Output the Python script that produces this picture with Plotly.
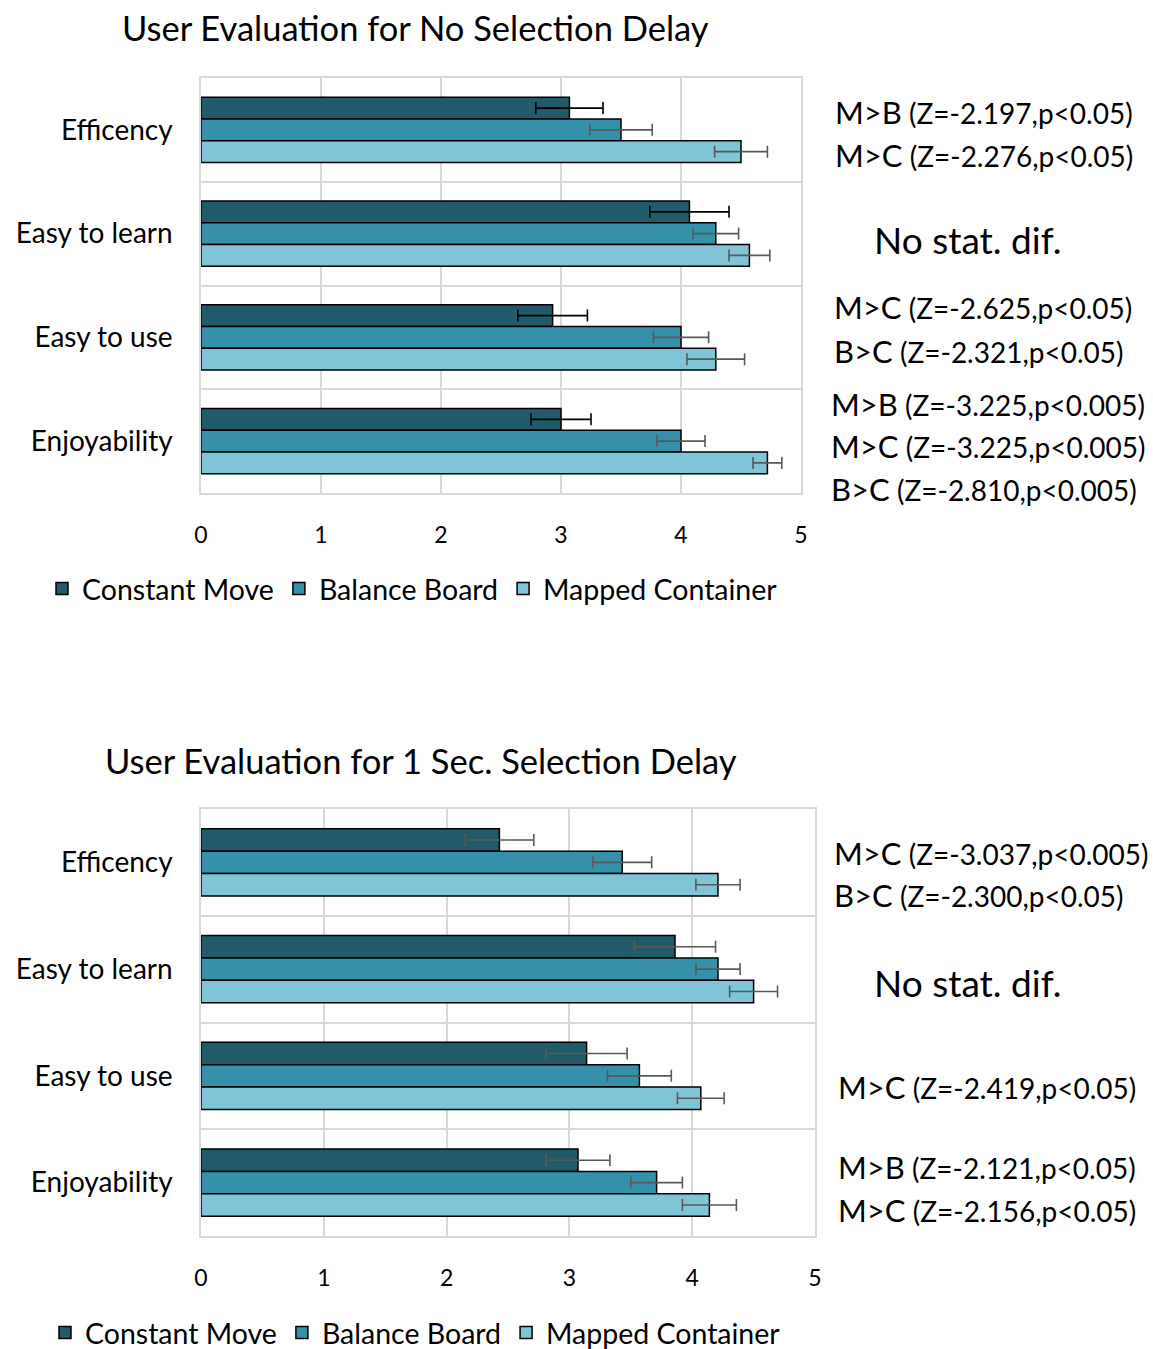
import plotly.graph_objects as go

# ---- data -------------------------------------------------------------
categories = ["Efficency", "Easy to learn", "Easy to use", "Enjoyability"]
series_names = ["Constant Move", "Balance Board", "Mapped Container"]

# No selection delay: means and error half-widths per series
nodelay_cm = [3.07, 4.07, 2.93, 3.00]
nodelay_bb = [3.50, 4.29, 4.00, 4.00]
nodelay_mc = [4.50, 4.57, 4.29, 4.72]
nodelay_cm_err = [0.28, 0.33, 0.29, 0.25]
nodelay_bb_err = [0.26, 0.19, 0.23, 0.20]
nodelay_mc_err = [0.22, 0.17, 0.24, 0.12]

# 1 second selection delay
delay_cm = [2.43, 3.86, 3.14, 3.07]
delay_bb = [3.43, 4.21, 3.57, 3.71]
delay_mc = [4.21, 4.50, 4.07, 4.14]
delay_cm_err = [0.28, 0.33, 0.33, 0.26]
delay_bb_err = [0.24, 0.18, 0.26, 0.21]
delay_mc_err = [0.18, 0.195, 0.19, 0.22]

x_ticks = [0, 1, 2, 3, 4, 5]

title_top = "User Evaluation for No Selection Delay"
title_bottom = "User Evaluation for 1 Sec. Selection Delay"

# statistical notes: (comparison, detail)
notes_top = [
    ("M>B", "(Z=-2.197,p<0.05)"),
    ("M>C", "(Z=-2.276,p<0.05)"),
    ("M>C", "(Z=-2.625,p<0.05)"),
    ("B>C", "(Z=-2.321,p<0.05)"),
    ("M>B", "(Z=-3.225,p<0.005)"),
    ("M>C", "(Z=-3.225,p<0.005)"),
    ("B>C", "(Z=-2.810,p<0.005)"),
]
notes_bottom = [
    ("M>C", "(Z=-3.037,p<0.005)"),
    ("B>C", "(Z=-2.300,p<0.05)"),
    ("M>C", "(Z=-2.419,p<0.05)"),
    ("M>B", "(Z=-2.121,p<0.05)"),
    ("M>C", "(Z=-2.156,p<0.05)"),
]
no_diff_text = "No stat. dif."

# ---- styling ----------------------------------------------------------
W, H = 1153, 1349
FONT = "Lato"
colors = ["#215B69", "#3590AA", "#80C4D7"]
err_colors_top = ["#000000", "#595959", "#595959"]
err_colors_bottom = ["#595959", "#595959", "#595959"]
grid = "#D9D9D9"


def px_x(v):
    return v / W


def px_y(v):
    return 1 - v / H


fig = go.Figure()

cat_pos = list(range(len(categories)))

top_sets = [
    (nodelay_cm, nodelay_cm_err),
    (nodelay_bb, nodelay_bb_err),
    (nodelay_mc, nodelay_mc_err),
]
bottom_sets = [
    (delay_cm, delay_cm_err),
    (delay_bb, delay_bb_err),
    (delay_mc, delay_mc_err),
]

for i, (vals, errs) in enumerate(top_sets):
    fig.add_trace(go.Bar(
        x=vals, y=cat_pos, orientation="h", name=series_names[i],
        marker=dict(color=colors[i], line=dict(color="#000000", width=1.5)),
        error_x=dict(type="data", array=errs, visible=True,
                     color=err_colors_top[i], thickness=1.6, width=6),
        xaxis="x", yaxis="y", legend="legend",
    ))

for i, (vals, errs) in enumerate(bottom_sets):
    fig.add_trace(go.Bar(
        x=vals, y=cat_pos, orientation="h", name=series_names[i],
        marker=dict(color=colors[i], line=dict(color="#000000", width=1.5)),
        error_x=dict(type="data", array=errs, visible=True,
                     color=err_colors_bottom[i], thickness=1.6, width=6),
        xaxis="x2", yaxis="y2", legend="legend2",
    ))


def xaxis_style(domain, anchor):
    return dict(
        domain=domain, anchor=anchor, range=[0, 5], tickvals=x_ticks,
        showgrid=True, gridcolor=grid, gridwidth=1.5, zeroline=False,
        showline=True, linecolor=grid, linewidth=1.5, mirror=True,
        ticks="", ticklabelstandoff=21, automargin=False,
        tickfont=dict(family=FONT, size=23, color="#000000"),
        fixedrange=True,
    )


def yaxis_style(domain, anchor):
    return dict(
        domain=domain, anchor=anchor, range=[3.5, -0.5],
        tickvals=cat_pos, ticktext=categories, showgrid=False,
        zeroline=False, showline=True, linecolor=grid, linewidth=1.5,
        mirror=True, ticks="", ticklabelstandoff=21, automargin=False,
        tickfont=dict(family=FONT, size=28, color="#000000"),
        minor=dict(tickvals=[0.5, 1.5, 2.5], showgrid=True,
                   gridcolor=grid, gridwidth=1.5, ticks=""),
        fixedrange=True,
    )


legend_common = dict(
    orientation="h", xanchor="left", yanchor="middle", traceorder="normal",
    font=dict(family=FONT, size=28.5, color="#000000"),
    itemwidth=30, tracegroupgap=0, bgcolor="rgba(0,0,0,0)",
)

fig.update_layout(
    template="none",
    width=W, height=H,
    margin=dict(l=0, r=0, t=0, b=0, autoexpand=False),
    paper_bgcolor="white", plot_bgcolor="white",
    barmode="group", bargap=0.37, bargroupgap=0,
    font=dict(family=FONT, color="#000000"),
    xaxis=xaxis_style([px_x(201), px_x(801)], "y"),
    yaxis=yaxis_style([px_y(493), px_y(78)], "x"),
    xaxis2=xaxis_style([px_x(201), px_x(815)], "y2"),
    yaxis2=yaxis_style([px_y(1236), px_y(809)], "x2"),
    legend=dict(x=px_x(42), y=px_y(589), **legend_common),
    legend2=dict(x=px_x(45), y=px_y(1333), **legend_common),
    showlegend=True,
)

annotations = [
    dict(text=title_top, x=px_x(415), y=px_y(28), xref="paper", yref="paper",
         showarrow=False, xanchor="center", yanchor="middle",
         font=dict(family=FONT, size=34.5, color="#000000")),
    dict(text=title_bottom, x=px_x(421), y=px_y(760), xref="paper", yref="paper",
         showarrow=False, xanchor="center", yanchor="middle",
         font=dict(family=FONT, size=34.5, color="#000000")),
]


def note_text(comp, detail):
    comp = comp.replace(">", "&gt;")
    detail = detail.replace("<", "&lt;")
    return f"<span style='font-size:31px'>{comp}</span> {detail}"


top_note_pos = [(833, 112), (833, 155), (832, 307), (832, 351),
                (829, 404), (829, 446), (829, 489)]
bottom_note_pos = [(832, 853), (832, 895), (836, 1087),
                   (836, 1167), (836, 1210)]

for (comp, detail), (xp, yp) in zip(notes_top, top_note_pos):
    annotations.append(dict(
        text=note_text(comp, detail), x=px_x(xp), y=px_y(yp),
        xref="paper", yref="paper", showarrow=False,
        xanchor="left", yanchor="middle",
        font=dict(family=FONT, size=28, color="#000000")))

for (comp, detail), (xp, yp) in zip(notes_bottom, bottom_note_pos):
    annotations.append(dict(
        text=note_text(comp, detail), x=px_x(xp), y=px_y(yp),
        xref="paper", yref="paper", showarrow=False,
        xanchor="left", yanchor="middle",
        font=dict(family=FONT, size=28, color="#000000")))

for yp in (240, 982):
    annotations.append(dict(
        text=no_diff_text, x=px_x(968), y=px_y(yp),
        xref="paper", yref="paper", showarrow=False,
        xanchor="center", yanchor="middle",
        font=dict(family=FONT, size=37, color="#000000")))

fig.update_layout(annotations=annotations)

fig.write_html("out.html")
